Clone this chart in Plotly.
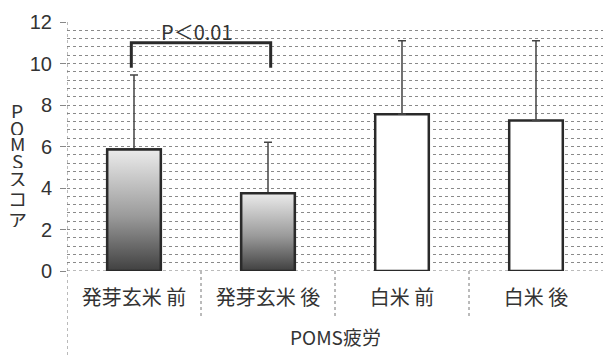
import plotly.graph_objects as go

categories = ["発芽玄米 前", "発芽玄米 後", "白米 前", "白米 後"]
means = [5.85, 3.75, 7.55, 7.25]
sd_upper = [3.6, 2.45, 3.55, 3.85]
gradient_flags = [True, True, False, False]
y_ticks = [0, 2, 4, 6, 8, 10, 12]
sig_pair = (0, 1)
sig_text = "P＜0.01"
sig_level = 11.0
sig_leg = 9.8
group_label = "POMS疲労"
y_title = "POMSスコア"

FONT = "Noto Sans CJK JP"
LATIN = "Liberation Sans"
BAR_W = 0.4
x_idx = list(range(len(categories)))

fig = go.Figure()

fig.add_trace(go.Bar(
    x=x_idx, y=means, width=BAR_W,
    marker=dict(color=["rgba(0,0,0,0)" if g else "white" for g in gradient_flags],
                line=dict(color="#2a2a2a", width=2.5)),
    error_y=dict(type="data", symmetric=False, array=sd_upper,
                 arrayminus=[0] * len(means), color="#444", thickness=1.5, width=4),
    showlegend=False,
))

# gradient fills (scatter with fillgradient)
for i, (v, g) in enumerate(zip(means, gradient_flags)):
    if not g:
        continue
    xs = [i - BAR_W / 2, i + BAR_W / 2, i + BAR_W / 2, i - BAR_W / 2, i - BAR_W / 2]
    ys = [0, 0, v, v, 0]
    fig.add_trace(go.Scatter(
        x=xs, y=ys, mode="lines", fill="toself",
        line=dict(color="#2a2a2a", width=2.5),
        fillgradient=dict(type="vertical",
                          colorscale=[[0, "#404040"], [0.45, "#9a9a9a"], [1, "#ebebeb"]]),
        hoverinfo="skip", showlegend=False,
    ))

# significance bracket
a, b = sig_pair
fig.add_trace(go.Scatter(
    x=[a - 0.02, a - 0.02, b + 0.02, b + 0.02],
    y=[sig_leg, sig_level, sig_level, sig_leg],
    mode="lines", line=dict(color="#2a2a2a", width=3),
    hoverinfo="skip", showlegend=False,
))
fig.add_annotation(x=(a + b) / 2 - 0.03, y=sig_level + 0.55, text=sig_text,
                   showarrow=False, yanchor="middle",
                   font=dict(family=FONT, size=20, color="#333"))

# y title stacked vertically, one character per line
PLOT_TOP, PLOT_BOT = 22, 271
char_centers_px = [110, 127, 143, 160, 178, 198, 219]
for ch, py in zip(y_title, char_centers_px):
    fig.add_annotation(xref="paper", yref="paper",
                       x=(17 - 67) / 536, y=(PLOT_BOT - py) / (PLOT_BOT - PLOT_TOP),
                       text=ch, showarrow=False, xanchor="center", yanchor="middle",
                       height=16, borderpad=0,
                       font=dict(family=FONT, size=19, color="#333"))

# group label
fig.add_annotation(xref="paper", yref="paper", x=0.5,
                   y=(PLOT_BOT - 336) / (PLOT_BOT - PLOT_TOP),
                   text=group_label, showarrow=False, yanchor="middle",
                   font=dict(family=FONT, size=19, color="#333"))

# category separators extending below axis
for s in [0.5, 1.5, 2.5]:
    fig.add_shape(type="line", xref="x", yref="paper", x0=s, x1=s, y0=0,
                  y1=(PLOT_BOT - 318) / (PLOT_BOT - PLOT_TOP),
                  line=dict(color="#777", width=1, dash="dot"))
# outer y axis line extending to bottom
fig.add_shape(type="line", xref="x", yref="paper", x0=-0.5, x1=-0.5, y0=1,
              y1=(PLOT_BOT - 356) / (PLOT_BOT - PLOT_TOP),
              line=dict(color="#777", width=1, dash="dot"))
# x axis line
fig.add_shape(type="line", xref="paper", yref="y", x0=0, x1=1, y0=0, y1=0,
              line=dict(color="#777", width=1, dash="dot"), layer="below")

fig.update_layout(
    width=603, height=356,
    margin=dict(l=67, r=0, t=22, b=85, autoexpand=False),
    paper_bgcolor="white", plot_bgcolor="white",
    font=dict(family=FONT, color="#333"),
)
fig.update_xaxes(range=[-0.5, 3.5], tickmode="array", tickvals=x_idx, ticktext=categories,
                 tickfont=dict(size=20, family=FONT, color="#333"), showgrid=False,
                 zeroline=False, showline=False, ticks="", ticklabelstandoff=13,
                 automargin=False)
fig.update_yaxes(range=[0, 12], tickmode="array", tickvals=y_ticks,
                 tickfont=dict(size=20, family=LATIN, color="#333"),
                 showgrid=True, gridcolor="#8a8a8a", griddash="dot", gridwidth=1,
                 minor=dict(dtick=0.4, tick0=0, showgrid=True, gridcolor="#8a8a8a",
                            griddash="dot", gridwidth=1),
                 zeroline=False, showline=False, ticks="outside", ticklen=6,
                 tickcolor="#888", ticklabelstandoff=4, automargin=False)

fig.write_html("out.html", config={"displayModeBar": False},
               post_script="document.body.style.margin='0';document.body.style.overflow='hidden';")
